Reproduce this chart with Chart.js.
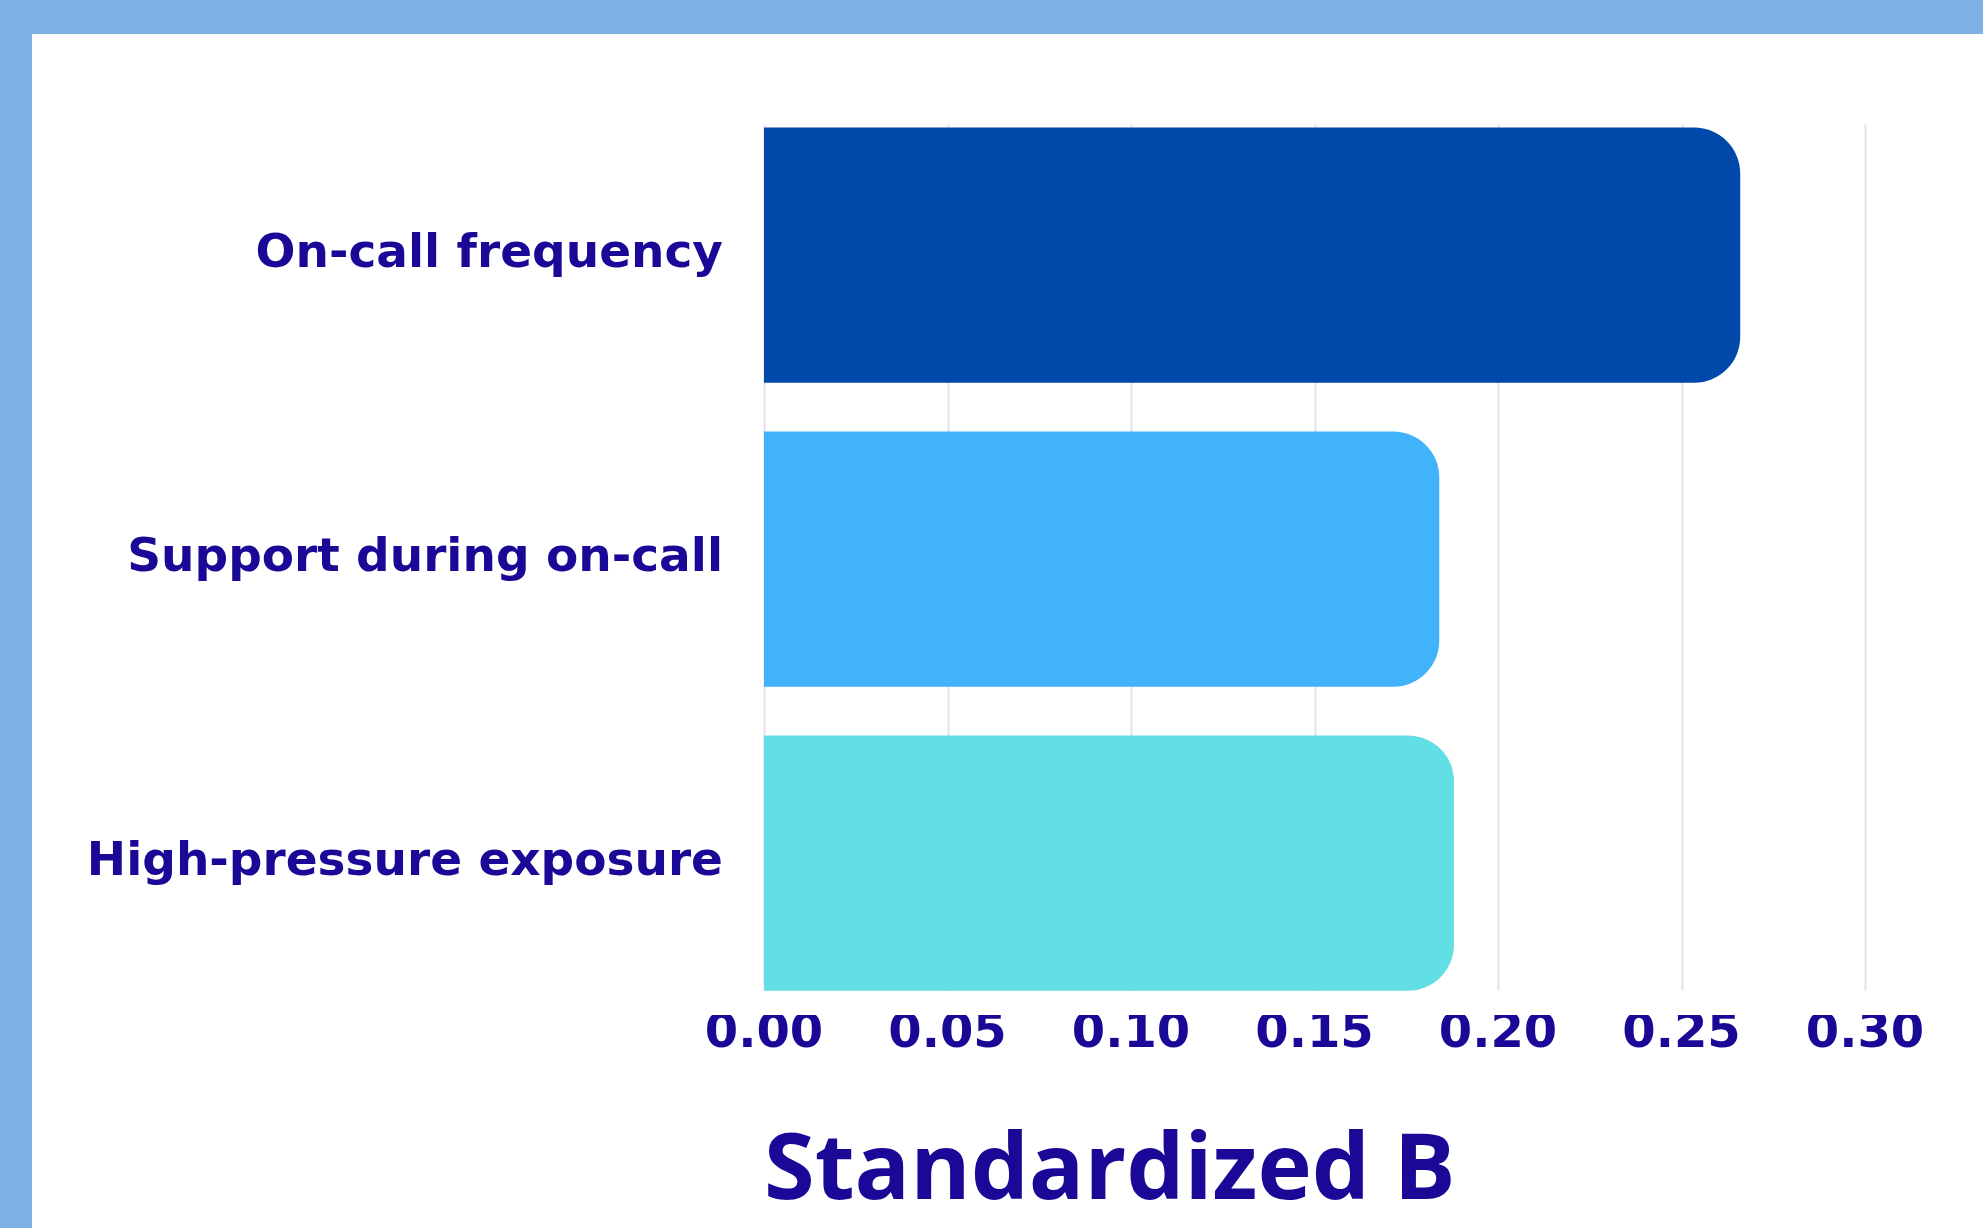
<!DOCTYPE html>
<html>
<head>
<meta charset="utf-8">
<script src="https://cdn.jsdelivr.net/npm/chart.js@4.4.0/dist/chart.umd.min.js"></script>
<style>
  html, body { margin: 0; padding: 0; background: #80b1e4; }
  #frame {
    position: absolute; left: 32px; top: 34px;
    width: 1951px; height: 1194px; background: #ffffff;
  }
</style>
</head>
<body>
<div id="frame"><canvas id="chart" width="1951" height="1194"></canvas></div>
<script>
// chart data
let categories = ["On-call frequency", "Support during on-call", "High-pressure exposure"];
let values = [0.266, 0.184, 0.188];
let barColors = ["#0049ab", "#40b3fb", "#62dfe5"];
let xTicks = [0.0, 0.05, 0.1, 0.15, 0.2, 0.25, 0.3];

let inkColor = "#1a0897";

// draw the vertical grid only over the span of the bars
let gridPlugin = {
  id: "barGrid",
  beforeDatasetsDraw(chart) {
    let meta = chart.getDatasetMeta(0);
    let first = meta.data[0];
    let last = meta.data[meta.data.length - 1];
    let top = first.y - first.height / 2 - 3;
    let bottom = last.y + last.height / 2;
    let xs = chart.scales.x;
    let c = chart.ctx;
    c.save();
    c.strokeStyle = "#e3e0f0";
    c.lineWidth = 2;
    for (let t of xTicks) {
      let px = Math.round(xs.getPixelForValue(t)) + 0.5;
      c.beginPath();
      c.moveTo(px, top);
      c.lineTo(px, bottom);
      c.stroke();
    }
    c.restore();
  }
};

let ctx = document.getElementById("chart");
let barChart = new Chart(ctx, {
  type: "bar",
  data: {
    labels: categories,
    datasets: [
      {
        label: "Standardized B",
        data: values,
        backgroundColor: barColors,
        borderRadius: 46,
        borderSkipped: "start",
        barPercentage: 0.84,
        categoryPercentage: 1.0
      }
    ]
  },
  options: {
    indexAxis: "y",
    responsive: false,
    animation: false,
    layout: { padding: { top: 67, right: 118, bottom: 0, left: 0 } },
    plugins: {
      legend: { display: false },
      tooltip: { enabled: false }
    },
    scales: {
      x: {
        min: 0,
        max: 0.3,
        afterBuildTicks(scale) {
          scale.ticks = xTicks.map(v => ({ value: v }));
        },
        afterFit(scale) {
          scale.height = 213;
        },
        border: { display: false },
        grid: { display: false, drawTicks: false },
        ticks: {
          padding: -9,
          color: inkColor,
          font: { family: "DejaVu Sans", weight: "bold", size: 48 },
          callback: v => Number(v).toFixed(2)
        },
        title: {
          display: true,
          text: "Standardized B",
          align: "start",
          color: inkColor,
          font: { family: "Open Sans", weight: "bold", size: 92, lineHeight: 1.0 },
          padding: { top: 0, bottom: 9 }
        }
      },
      y: {
        afterFit(scale) {
          scale.width = 732;
        },
        border: { display: false },
        grid: { display: false, drawTicks: false },
        ticks: {
          padding: 41,
          color: inkColor,
          font: { family: "DejaVu Sans", weight: "bold", size: 47 }
        }
      }
    }
  },
  plugins: [gridPlugin]
});
</script>
</body>
</html>
